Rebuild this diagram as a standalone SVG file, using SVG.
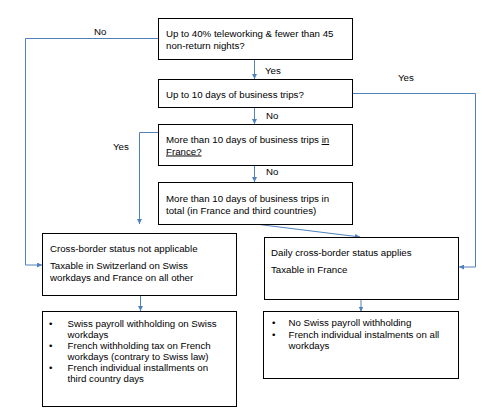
<svg xmlns="http://www.w3.org/2000/svg" width="495" height="414" viewBox="0 0 495 414">
<defs>
<marker id="ah" viewBox="0 0 10 10" refX="10" refY="5" markerWidth="5" markerHeight="5" orient="auto" markerUnits="userSpaceOnUse">
<path d="M0,0 L10,5 L0,10 z" fill="#4f81bd"/>
</marker>
<style>
.box{fill:#fff;stroke:#000;stroke-width:1}
.t{font-family:"Liberation Sans",Arial,sans-serif;font-size:9.7px;fill:#000}
.c{fill:none;stroke:#4f81bd;stroke-width:1}
</style>
</defs>
<rect width="495" height="414" fill="#fff"/>
<g id="connectors">
<path class="c" d="M158,38.5 H25.5 V265 H42" marker-end="url(#ah)"/>
<path class="c" d="M254.5,59 V79" marker-end="url(#ah)"/>
<path class="c" d="M352,93.5 H475.5 V267 H459" marker-end="url(#ah)"/>
<path class="c" d="M254.5,107 V124" marker-end="url(#ah)"/>
<path class="c" d="M158,132.5 H139.5 V224" marker-end="url(#ah)"/>
<path class="c" d="M254.5,165 V182" marker-end="url(#ah)"/>
<path class="c" d="M255,224 L360,237" marker-end="url(#ah)"/>
<path class="c" d="M140.5,295 V311" marker-end="url(#ah)"/>
<path class="c" d="M361,299 V311.5" marker-end="url(#ah)"/>
<text class="t" x="94" y="35">No</text>
<text class="t" x="265" y="74">Yes</text>
<text class="t" x="398" y="81">Yes</text>
<text class="t" x="266" y="119">No</text>
<text class="t" x="113" y="150">Yes</text>
<text class="t" x="266" y="175">No</text>
</g>
<g id="n1">
<rect class="box" x="158.5" y="18.5" width="194" height="41"/>
<text class="t" x="166" y="37">Up to 40% teleworking &amp; fewer than 45</text>
<text class="t" x="166" y="49">non-return nights?</text>
</g>
<g id="n2">
<rect class="box" x="158.5" y="79.5" width="194" height="28"/>
<text class="t" x="166" y="98">Up to 10 days of business trips?</text>
</g>
<g id="n3">
<rect class="box" x="158.5" y="124.5" width="194" height="41"/>
<text class="t" x="166" y="143">More than 10 days of business trips <tspan text-decoration="underline">in</tspan></text>
<text class="t" x="166" y="154.5" text-decoration="underline">France?</text>
</g>
<g id="n4">
<rect class="box" x="158.5" y="182.5" width="194" height="42"/>
<text class="t" x="166" y="202">More than 10 days of business trips in</text>
<text class="t" x="166" y="213.5">total (in France and third countries)</text>
</g>
<g id="n5">
<rect class="box" x="42.5" y="233.5" width="194" height="62"/>
<text class="t" x="50" y="251.5">Cross-border status not applicable</text>
<text class="t" x="50" y="269">Taxable in Switzerland on Swiss</text>
<text class="t" x="50" y="281">workdays and France on all other</text>
</g>
<g id="n6">
<rect class="box" x="42.5" y="311.5" width="194" height="95"/>
<text class="t" x="49" y="326.5">•</text>
<text class="t" x="67.5" y="326.5">Swiss payroll withholding on Swiss</text>
<text class="t" x="67.5" y="337.5">workdays</text>
<text class="t" x="49" y="349">•</text>
<text class="t" x="67.5" y="349">French withholding tax on French</text>
<text class="t" x="67.5" y="360">workdays (contrary to Swiss law)</text>
<text class="t" x="49" y="371">•</text>
<text class="t" x="67.5" y="371">French individual installments on</text>
<text class="t" x="67.5" y="382">third country days</text>
</g>
<g id="n7">
<rect class="box" x="264.5" y="237.5" width="194" height="62"/>
<text class="t" x="271" y="256">Daily cross-border status applies</text>
<text class="t" x="271" y="272.5">Taxable in France</text>
</g>
<g id="n8">
<rect class="box" x="263.5" y="311.5" width="195" height="67"/>
<text class="t" x="272" y="326">•</text>
<text class="t" x="288.5" y="326">No Swiss payroll withholding</text>
<text class="t" x="272" y="337.5">•</text>
<text class="t" x="288.5" y="337.5">French individual instalments on all</text>
<text class="t" x="288.5" y="349">workdays</text>
</g>
</svg>
